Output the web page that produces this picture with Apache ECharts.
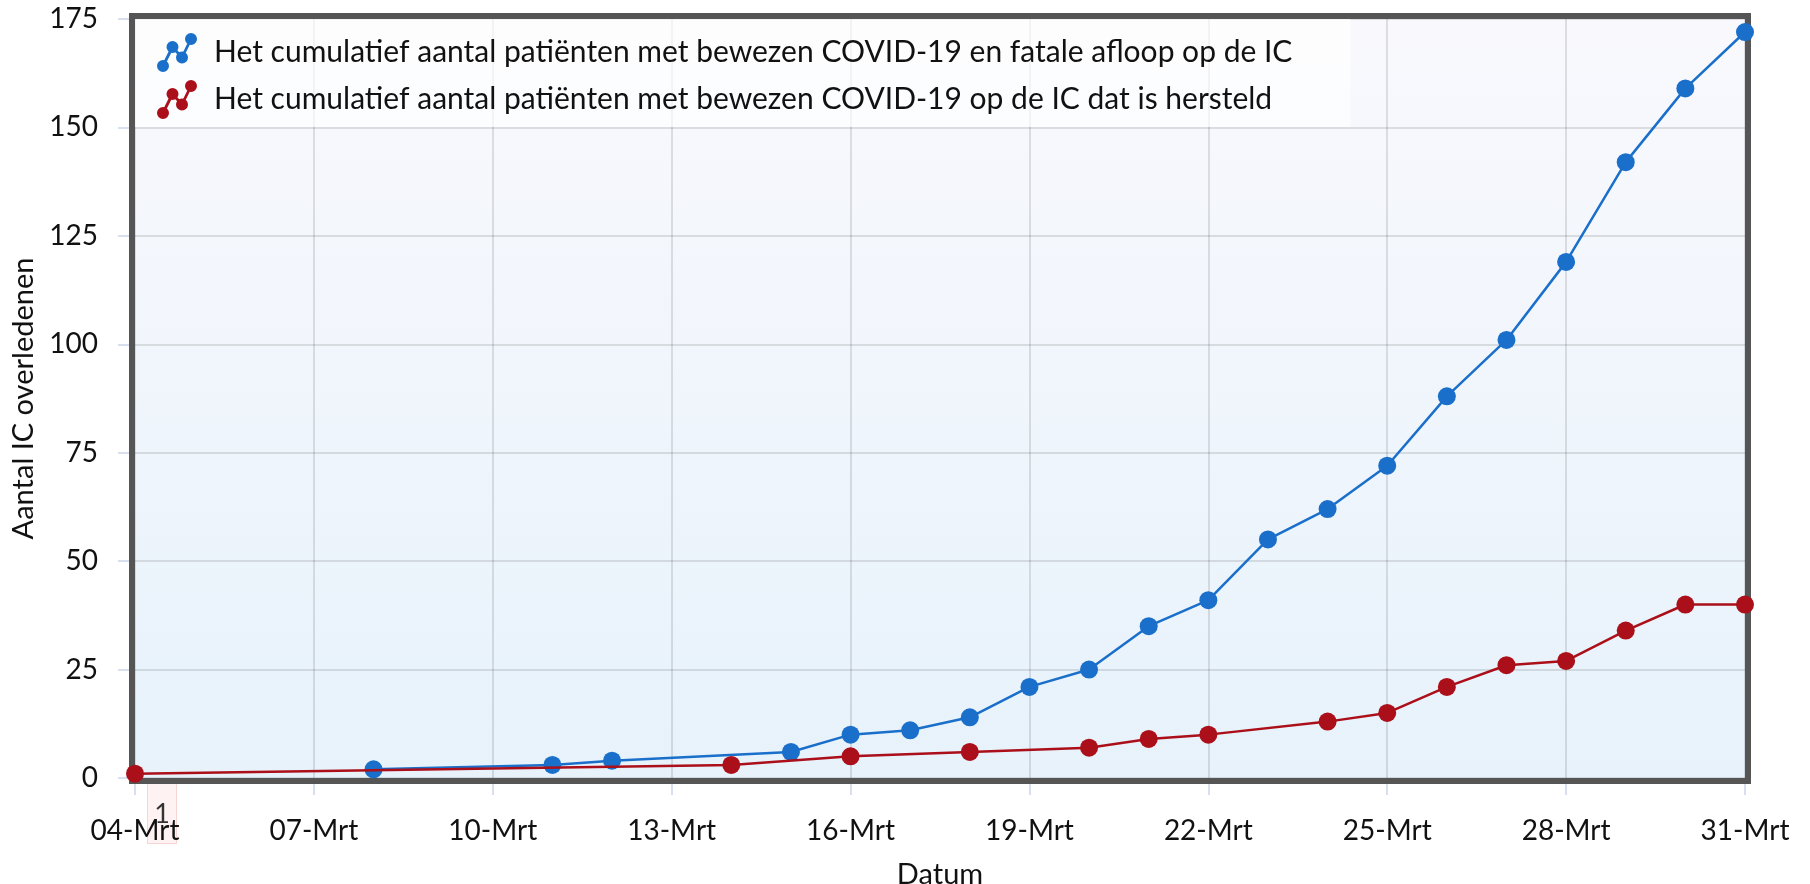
<!DOCTYPE html>
<html lang="nl">
<head>
    <meta charset="UTF-8">
    <title>IC overledenen</title>
    <style>
        * { margin: 0; padding: 0; }
        html, body { width: 1810px; height: 884px; background: #fff; }
        #chart { width: 1810px; height: 884px; }
    </style>
</head>
<body>
    <div id="chart"></div>
    <script src="https://cdn.jsdelivr.net/npm/echarts@6/dist/echarts.min.js"></script>
    <script>
        // tick labels on the x axis (every 3 days)
        var firstDay = 4;
        var lastDay = 31;
        var monthLabel = 'Mrt';

        // overleden op de IC
        var deathDates = ['08-Mrt', '11-Mrt', '12-Mrt', '15-Mrt', '16-Mrt', '17-Mrt', '18-Mrt', '19-Mrt', '20-Mrt', '21-Mrt',
            '22-Mrt', '23-Mrt', '24-Mrt', '25-Mrt', '26-Mrt', '27-Mrt', '28-Mrt', '29-Mrt', '30-Mrt', '31-Mrt'];
        var deathValues = [2, 3, 4, 6, 10, 11, 14, 21, 25, 35, 41, 55, 62, 72, 88, 101, 119, 142, 159, 172];

        // hersteld
        var recoveredDates = ['04-Mrt', '14-Mrt', '16-Mrt', '18-Mrt', '20-Mrt', '21-Mrt', '22-Mrt', '24-Mrt', '25-Mrt',
            '26-Mrt', '27-Mrt', '28-Mrt', '29-Mrt', '30-Mrt', '31-Mrt'];
        var recoveredValues = [1, 3, 5, 6, 7, 9, 10, 13, 15, 21, 26, 27, 34, 40, 40];

        var seriesNames = [
            'Het cumulatief aantal patiënten met bewezen COVID-19 en fatale afloop op de IC',
            'Het cumulatief aantal patiënten met bewezen COVID-19 op de IC dat is hersteld'
        ];
        var seriesColors = ['#1a6fca', '#ab0f19'];

        var FONT = 'Lato, "Open Sans", sans-serif';

        // day index since first day, so the 3-day ticks start at 04-Mrt
        function toPoints(dates, values) {
            var res = [];
            for (var i = 0; i < dates.length; i++) {
                res.push([parseInt(dates[i], 10) - firstDay, values[i]]);
            }
            return res;
        }

        // legend icon: a little zigzag line with four dots
        function dot(cx, cy, r) {
            return 'M' + (cx - r) + ' ' + cy + 'A' + r + ' ' + r + ' 0 1 1 ' + (cx + r) + ' ' + cy +
                'A' + r + ' ' + r + ' 0 1 1 ' + (cx - r) + ' ' + cy + 'Z';
        }
        var legendIcon = 'path://' +
            dot(6, 33, 6) + dot(15.5, 14, 6) + dot(25, 24.5, 6) + dot(34, 6, 6) +
            'M4.748 32.374L14.248 13.374L16.752 14.626L7.252 33.626Z' +
            'M16.538 13.061L26.038 23.561L23.962 25.439L14.462 14.939Z' +
            'M23.741 23.888L32.741 5.388L35.259 6.613L26.259 25.113Z';

        var chart = echarts.init(document.getElementById('chart'), null, { renderer: 'canvas' });

        var tickColor = '#ccd6eb';
        var gridLineColor = 'rgba(0,0,0,0.15)';

        var option = {
            animation: false,
            textStyle: { fontFamily: FONT },
            grid: [
                {
                    left: 135, right: 65, top: 19, bottom: 106,
                    outerBoundsMode: 'none',
                    containLabel: false,
                    show: true,
                    borderWidth: 0,
                    backgroundColor: {
                        type: 'linear', x: 0, y: 0, x2: 0, y2: 1,
                        colorStops: [
                            { offset: 0, color: '#f9f9fd' },
                            { offset: 1, color: '#e7f2fb' }
                        ]
                    }
                },
                {
                    // thick plot border
                    left: 132, right: 62, top: 16, bottom: 103,
                    outerBoundsMode: 'none',
                    containLabel: false,
                    show: true,
                    z: 1,
                    backgroundColor: 'transparent',
                    borderColor: '#555555',
                    borderWidth: 6
                }
            ],
            legend: {
                orient: 'vertical',
                left: 135,
                top: 19,
                padding: [14, 58, 8, 22],
                itemWidth: 40,
                itemHeight: 39,
                itemGap: 8,
                backgroundColor: 'rgba(255,255,255,0.65)',
                selectedMode: false,
                textStyle: { fontSize: 30, color: '#111', fontFamily: FONT, padding: [0, 0, 0, 12] },
                data: [
                    { name: seriesNames[0], icon: legendIcon, itemStyle: { color: seriesColors[0] } },
                    { name: seriesNames[1], icon: legendIcon, itemStyle: { color: seriesColors[1] } }
                ]
            },
            xAxis: [
                {
                    type: 'value',
                    gridIndex: 0,
                    min: 0,
                    max: lastDay - firstDay,
                    interval: 3,
                    offset: 5,
                    name: 'Datum',
                    nameLocation: 'middle',
                    nameGap: 77,
                    nameTextStyle: { fontSize: 29, color: '#111' },
                    axisLine: { show: false },
                    axisTick: { show: true, length: 17, lineStyle: { color: tickColor, width: 1.5 } },
                    minorTick: { show: true, splitNumber: 3, length: 6, lineStyle: { color: tickColor, width: 1.5 } },
                    splitLine: { show: true, lineStyle: { color: gridLineColor, width: 1.5 } },
                    axisLabel: {
                        fontSize: 28,
                        color: '#111',
                        margin: 34,
                        formatter: function (v) {
                            var d = v + firstDay;
                            return (d < 10 ? '0' + d : d) + '-' + monthLabel;
                        }
                    }
                },
                { type: 'value', gridIndex: 1, show: false }
            ],
            yAxis: [
                {
                    type: 'value',
                    gridIndex: 0,
                    min: 0,
                    max: 175,
                    interval: 25,
                    offset: 6,
                    name: 'Aantal IC overledenen',
                    nameLocation: 'middle',
                    nameGap: 90,
                    nameTextStyle: { fontSize: 29, color: '#111' },
                    axisLine: { show: false },
                    axisTick: { show: true, length: 17, lineStyle: { color: tickColor, width: 1.5 } },
                    minorTick: { show: true, splitNumber: 5, length: 6, lineStyle: { color: tickColor, width: 1.5 } },
                    splitLine: { show: true, lineStyle: { color: gridLineColor, width: 1.5 } },
                    axisLabel: { fontSize: 28, color: '#111', margin: 31 }
                },
                { type: 'value', gridIndex: 1, show: false }
            ],
            graphic: [
                {
                    type: 'group',
                    left: 147,
                    top: 783,
                    children: [
                        {
                            type: 'rect',
                            shape: { x: 0, y: 0, width: 29, height: 60 },
                            style: { fill: 'rgba(250,205,205,0.25)', stroke: 'rgba(240,170,170,0.45)', lineWidth: 1 }
                        },
                        {
                            type: 'text',
                            x: 14.5, y: 31,
                            style: { text: '1', fontSize: 27, fontFamily: FONT, fill: '#333', align: 'center', verticalAlign: 'middle' }
                        }
                    ]
                }
            ],
            series: [
                {
                    name: seriesNames[0],
                    type: 'line',
                    xAxisIndex: 0,
                    yAxisIndex: 0,
                    data: toPoints(deathDates, deathValues),
                    symbol: 'circle',
                    symbolSize: 18,
                    lineStyle: { color: seriesColors[0], width: 2.5 },
                    itemStyle: { color: seriesColors[0] },
                    z: 3
                },
                {
                    name: seriesNames[1],
                    type: 'line',
                    xAxisIndex: 0,
                    yAxisIndex: 0,
                    data: toPoints(recoveredDates, recoveredValues),
                    symbol: 'circle',
                    symbolSize: 18,
                    lineStyle: { color: seriesColors[1], width: 2.5 },
                    itemStyle: { color: seriesColors[1] },
                    z: 4
                }
            ]
        };

        chart.setOption(option);
    </script>
</body>
</html>
